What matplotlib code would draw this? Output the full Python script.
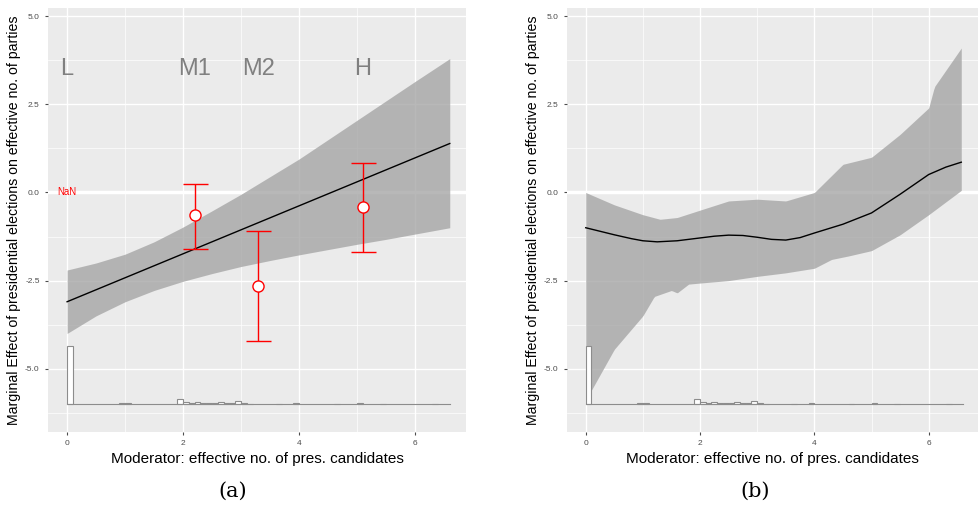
import numpy as np
import matplotlib
matplotlib.use("Agg")
import matplotlib.pyplot as plt

# panel (a): linear marginal effect
x_a = [0, 6.6]
me_a = [-3.1, 1.39]
xb_a = [0, 0.5, 1, 1.5, 2, 2.5, 3, 3.5, 4, 4.5, 5, 5.5, 6, 6.6]
lo_a = [-4.0, -3.5, -3.1, -2.78, -2.52, -2.3, -2.1, -1.93, -1.77, -1.62, -1.47, -1.33, -1.18, -1.0]
hi_a = [-2.2, -2.0, -1.75, -1.4, -0.98, -0.52, -0.05, 0.45, 0.95, 1.5, 2.05, 2.6, 3.15, 3.8]
bin_x = [2.2, 3.3, 5.1]
bin_est = [-0.65, -2.65, -0.4]
bin_lo = [-1.6, -4.2, -1.7]
bin_hi = [0.25, -1.1, 0.85]
bin_labels = ["L", "M1", "M2", "H"]
bin_label_x = [0, 2.2, 3.3, 5.1]

# panel (b): kernel marginal effect
x_b = [0, 0.5, 0.8, 1, 1.25, 1.6, 2, 2.25, 2.5, 2.75, 3, 3.25, 3.5, 3.75, 4, 4.5, 5, 5.5, 6, 6.3, 6.57]
me_b = [-1.0, -1.2, -1.31, -1.37, -1.4, -1.37, -1.29, -1.24, -1.21, -1.22, -1.27, -1.33, -1.35, -1.28, -1.15, -0.9, -0.58, -0.05, 0.51, 0.72, 0.86]
xu_b = [0, 0.5, 1, 1.3, 1.6, 2, 2.5, 3, 3.5, 4, 4.5, 5, 5.5, 6, 6.1, 6.57]
hi_b = [0.0, -0.35, -0.63, -0.76, -0.71, -0.5, -0.24, -0.19, -0.24, 0.0, 0.8, 1.0, 1.65, 2.4, 3.0, 4.1]
xl_b = [0, 0.5, 1, 1.2, 1.5, 1.6, 1.8, 2, 2.5, 3, 3.5, 4, 4.3, 4.6, 5, 5.5, 6, 6.57]
lo_b = [-5.9, -4.45, -3.5, -2.95, -2.78, -2.85, -2.6, -2.57, -2.5, -2.38, -2.28, -2.15, -1.9, -1.8, -1.65, -1.2, -0.63, 0.06]

# histogram of moderator (bin start, height above baseline)
hist_start = [0.0, 0.9, 1.0, 1.9, 2.0, 2.1, 2.2, 2.3, 2.4, 2.5, 2.6, 2.7, 2.8, 2.9, 3.0, 3.1, 3.6, 3.9, 4.6, 5.0, 5.4, 6.3]
hist_h = [1.65, 0.03, 0.02, 0.13, 0.06, 0.04, 0.06, 0.03, 0.03, 0.02, 0.05, 0.03, 0.02, 0.07, 0.02, 0.01, 0.01, 0.02, 0.01, 0.02, 0.01, 0.01]
base = -6.0

plt.rcParams['font.family'] = ['Liberation Sans', 'DejaVu Sans']
fig = plt.figure(figsize=(9.79, 5.12), dpi=100)
axA = fig.add_axes([0.049, 0.156, 0.427, 0.828])
axB = fig.add_axes([0.579, 0.156, 0.421, 0.828])

def style(ax):
    ax.set_facecolor("#EBEBEB")
    ax.set_xlim(-0.33, 6.88)
    ax.set_ylim(-6.8, 5.23)
    ax.set_xticks([0, 2, 4, 6])
    ax.set_xticks([1, 3, 5], minor=True)
    ax.set_yticks([-5, -2.5, 0, 2.5, 5])
    ax.set_yticks([-3.75, -1.25, 1.25, 3.75, -6.25], minor=True)
    ax.set_yticklabels(["-5.0", "-2.5", "0.0", "2.5", "5.0"])
    ax.grid(which="major", color="white", lw=1.0)
    ax.grid(which="minor", color="white", lw=0.5)
    ax.set_axisbelow(True)
    for s in ax.spines.values():
        s.set_visible(False)
    ax.tick_params(which="major", labelsize=6, colors="#4D4D4D", length=2.5)
    ax.tick_params(which="minor", length=0)
    ax.axhline(0, color="white", lw=2.5, zorder=1)
    ax.bar(hist_start, hist_h, width=0.1, bottom=base, align="edge",
           facecolor="white", edgecolor="#8C8C8C", lw=0.8, zorder=3)
    ax.plot([0, 6.6], [base, base], color="#8C8C8C", lw=0.8, zorder=3)
    ax.set_xlabel("Moderator: effective no. of pres. candidates", fontsize=11, labelpad=3)
    ax.set_ylabel("Marginal Effect of presidential elections on effective no. of parties", fontsize=10.2, labelpad=3)

style(axA)
style(axB)

xs = np.linspace(0, 6.6, 200)
axA.fill_between(xs, np.interp(xs, xb_a, lo_a), np.interp(xs, xb_a, hi_a), color="#A6A6A6", alpha=0.8, lw=0, zorder=2)
axA.plot(x_a, me_a, color="black", lw=1, zorder=4)
axA.errorbar(bin_x, bin_est, yerr=[np.subtract(bin_est, bin_lo), np.subtract(bin_hi, bin_est)],
             fmt="o", color="red", mfc="white", mec="red", ms=8, capsize=9, lw=1, zorder=5)
for lab, lx in zip(bin_labels, bin_label_x):
    axA.text(lx, 3.5, lab, fontsize=17, color="#808080", ha="center", va="center", zorder=6)
axA.text(0, 0, "NaN", fontsize=7, color="red", ha="center", va="center", zorder=6)

xsb = np.linspace(0, 6.57, 300)
axB.fill_between(xsb, np.interp(xsb, xl_b, lo_b), np.interp(xsb, xu_b, hi_b), color="#A6A6A6", alpha=0.8, lw=0, zorder=2)
axB.plot(x_b, me_b, color="black", lw=1, zorder=4)

fig.text(0.238, 0.03, "(a)", fontsize=15, family="DejaVu Serif", ha="center")
fig.text(0.771, 0.03, "(b)", fontsize=15, family="DejaVu Serif", ha="center")
fig.savefig("out.png", dpi=100)
